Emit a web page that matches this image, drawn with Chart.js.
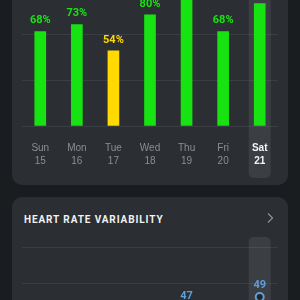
<!DOCTYPE html>
<html>
<head>
<meta charset="utf-8">
<script src="https://cdn.jsdelivr.net/npm/chart.js@4"></script>
<style>
  html, body { margin: 0; padding: 0; }
  body {
    width: 300px; height: 300px; overflow: hidden; position: relative;
    background: #1a1d20; font-family: Roboto, "Noto Sans", sans-serif;
  }
  .card {
    position: absolute; left: 12px; width: 276px;
    background: #2b2e32; border-radius: 10px;
  }
  #recoveryCard { top: -40px; height: 225px; }
  #hrvCard { top: 197px; height: 160px; }
  #recoveryWrap { position: absolute; left: 0; top: 10px; width: 276px; height: 215px; }
  #hrvWrap { position: absolute; left: 0; top: 33px; width: 276px; height: 130px; }
  .title {
    position: absolute; left: 12px; top: 17px;
    color: #f2f2f2; font-size: 10px; font-weight: 700; letter-spacing: 0.9px;
  }
  .chev { position: absolute; right: 14px; top: 15px; }
</style>
</head>
<body>
<div class="card" id="recoveryCard">
  <div id="recoveryWrap"><canvas id="recovery"></canvas></div>
</div>
<div class="card" id="hrvCard">
  <div class="title">HEART RATE VARIABILITY</div>
  <svg class="chev" width="8" height="12" viewBox="0 0 8 12"><polyline points="2,1.5 6.5,6 2,10.5" fill="none" stroke="#8a8d91" stroke-width="1.3"/></svg>
  <div id="hrvWrap"><canvas id="hrv"></canvas></div>
</div>
<script>
"use strict";

const days = ["Sun", "Mon", "Tue", "Wed", "Thu", "Fri", "Sat"];
const dates = ["15", "16", "17", "18", "19", "20", "21"];
const recovery = [68, 73, 54, 80, 95, 68, 88];
const recoveryGrid = [0, 33, 66];
const hrv = [42, 40, 38, 44, 47, 41, 49];
const hrvGrid = [51.5, 58];
const selectedIndex = 6;

const GREEN = "#18e312";
const YELLOW = "#ffd900";
const BLUE = "#5f9fdc";

const barColor = (v) => (v >= 67 ? GREEN : v >= 34 ? YELLOW : "#ff2a2a");

// hervorgehobene Spalte (heute)
const highlightPlugin = {
  id: "highlight",
  beforeDatasetsDraw(chart, args, opts) {
    const { ctx } = chart;
    const x = chart.scales.x.getPixelForValue(selectedIndex);
    const w = 22;
    ctx.save();
    ctx.fillStyle = "rgba(255,255,255,0.08)";
    ctx.beginPath();
    ctx.roundRect(x - w / 2, opts.top, w, opts.bottom - opts.top, opts.radius);
    ctx.fill();
    ctx.restore();
  },
};

// Werte über Balken / Punkten
const valueLabels = {
  id: "valueLabels",
  afterDatasetsDraw(chart, args, opts) {
    const { ctx } = chart;
    const meta = chart.getDatasetMeta(0);
    const data = chart.data.datasets[0].data;
    ctx.save();
    ctx.font = "bold 11px Roboto, sans-serif";
    ctx.textAlign = "center";
    ctx.textBaseline = "middle";
    meta.data.forEach((el, i) => {
      ctx.fillStyle = opts.color(data[i]);
      ctx.fillText(data[i] + opts.suffix, el.x, el.y - opts.offset);
    });
    ctx.restore();
  },
};

new Chart(document.getElementById("recovery"), {
  type: "bar",
  data: {
    labels: days.map((d, i) => [d, dates[i]]),
    datasets: [{
      data: recovery,
      backgroundColor: recovery.map(barColor),
      barThickness: 11,
      borderWidth: 0,
    }],
  },
  options: {
    responsive: true,
    maintainAspectRatio: false,
    animation: false,
    layout: { padding: { left: 10, right: 10, top: 17, bottom: 9 } },
    plugins: {
      legend: { display: false },
      tooltip: { enabled: false },
      highlight: { top: 0, bottom: 208, radius: 5 },
      valueLabels: { color: barColor, suffix: "%", offset: 11 },
    },
    scales: {
      x: {
        grid: { display: false },
        border: { display: false },
        ticks: {
          padding: 8,
          font: (c) => ({ size: 10, weight: c.index === selectedIndex ? "bold" : "normal", lineHeight: 1.3 }),
          color: (c) => (c.index === selectedIndex ? "#f4f4f4" : "#8b8e92"),
        },
      },
      y: {
        min: 0,
        max: 100,
        afterBuildTicks: (axis) => { axis.ticks = recoveryGrid.map((v) => ({ value: v })); },
        grid: { color: "#3a3d41", drawTicks: false },
        border: { display: false },
        ticks: { display: false },
      },
    },
  },
  plugins: [highlightPlugin, valueLabels],
});

new Chart(document.getElementById("hrv"), {
  type: "line",
  data: {
    labels: days,
    datasets: [{
      data: hrv,
      borderColor: BLUE,
      borderWidth: 2,
      pointRadius: (c) => (c.dataIndex === selectedIndex ? 4 : 3),
      pointBackgroundColor: (c) => (c.dataIndex === selectedIndex ? "#22262a" : BLUE),
      pointBorderColor: BLUE,
      pointBorderWidth: 2,
    }],
  },
  options: {
    responsive: true,
    maintainAspectRatio: false,
    animation: false,
    layout: { padding: { left: 10, right: 10, top: 17, bottom: 13 } },
    plugins: {
      legend: { display: false },
      tooltip: { enabled: false },
      highlight: { top: 7, bottom: 200, radius: 5 },
      valueLabels: { color: () => BLUE, suffix: "", offset: 12 },
    },
    scales: {
      x: {
        display: false,
        offset: true,
      },
      y: {
        min: 40,
        max: 58,
        afterBuildTicks: (axis) => { axis.ticks = hrvGrid.map((v) => ({ value: v })); },
        grid: { color: "#3a3d41", drawTicks: false },
        border: { display: false },
        ticks: { display: false },
      },
    },
  },
  plugins: [highlightPlugin, valueLabels],
});
</script>
</body>
</html>
